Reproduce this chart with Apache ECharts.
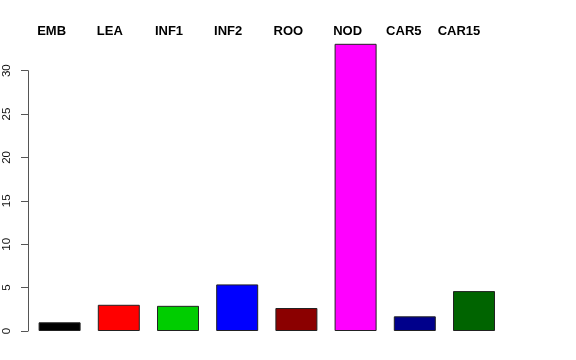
<!DOCTYPE html>
<html>
<head>
<meta charset="utf-8">
<script src="https://cdn.jsdelivr.net/npm/echarts@6/dist/echarts.min.js"></script>
<style>html,body{margin:0;padding:0;background:#fff}#c{width:576px;height:360px}</style>
</head>
<body>
<div id="c"></div>
<script>
const categories = ['EMB','LEA','INF1','INF2','ROO','NOD','CAR5','CAR15'];
const values = [1.0, 3.02, 2.9, 5.37, 2.65, 33.1, 1.69, 4.6];
const colors = ['#000000','#FF0000','#00CD00','#0000FF','#8B0000','#FF00FF','#00008B','#006400'];
const yTicks = [0, 5, 10, 15, 20, 25, 30];

// horizontal shift (px, leftwards) of each top label relative to its bar centre
const labelShift = [8, 9, 9, 9, 8, 8, 11, 15];
const rich = {};
labelShift.forEach((s, i) => {
  rich['l' + i] = {
    fontFamily: 'Liberation Sans, Arial, sans-serif', fontWeight: 'bold', fontSize: 13,
    color: '#000', padding: [0, 2 * s, 0, 0]
  };
});

const chart = echarts.init(document.getElementById('c'), null, {renderer:'canvas'});
chart.setOption({
  animation: false,
  backgroundColor: '#ffffff',
  grid: {left: 30, right: 72.4, top: 70.7, bottom: 29},
  xAxis: [{
    type: 'category', data: categories, position: 'bottom',
    axisLine: {show: false}, axisTick: {show: false}, axisLabel: {show: false}
  }, {
    type: 'category', data: categories, position: 'top',
    axisLine: {show: false}, axisTick: {show: false},
    axisLabel: {
      show: true, interval: 0, margin: 33,
      formatter: (v, i) => '{l' + i + '|' + v + '}',
      rich: rich
    }
  }],
  yAxis: {
    type: 'value', min: 0, max: yTicks[yTicks.length-1], interval: 5, offset: 2,
    axisLine: {show: true, lineStyle: {color: '#555', width: 1}},
    axisTick: {show: true, length: 7, lineStyle: {color: '#555'}},
    splitLine: {show: false},
    axisLabel: {
      rotate: 90, margin: 15, fontSize: 11.5,
      fontFamily: 'Liberation Sans, Arial, sans-serif', color: '#111',
      formatter: v => yTicks.includes(v) ? String(v) : ''
    }
  },
  series: [{
    type: 'bar', xAxisIndex: 0, clip: false, barWidth: 42,
    data: values.map((v, i) => ({value: v, itemStyle: {color: colors[i]}})),
    itemStyle: {borderColor: '#222', borderWidth: 1}
  }]
});
</script>
</body>
</html>
